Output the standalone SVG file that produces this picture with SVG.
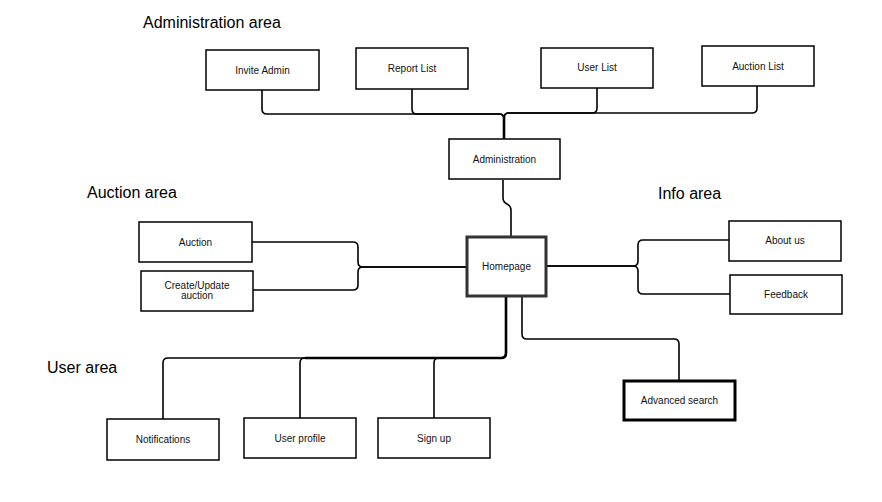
<svg xmlns="http://www.w3.org/2000/svg" width="882" height="502" viewBox="0 0 882 502">
<style>
.box{fill:#fff;stroke:#000;stroke-width:1.5}
.t{font-family:"Liberation Sans",Arial,sans-serif;font-size:10px;fill:#111;text-anchor:middle}
.area{font-family:"Liberation Sans",Arial,sans-serif;font-size:16px;fill:#000}
.e{fill:none;stroke:#000;stroke-width:1.6}
.tr{fill:none;stroke:#000;stroke-width:2.6}
</style>
<rect width="882" height="502" fill="#fff"/>
<text class="area" x="143" y="28">Administration area</text>
<text class="area" x="87" y="198">Auction area</text>
<text class="area" x="658" y="199">Info area</text>
<text class="area" x="47" y="373">User area</text>
<g id="connectors">
<path class="e" d="M504,139 V119 Q504,114 499,114 H267 Q262,114 262,109 V90"/>
<path class="e" d="M504,139 V119 Q504,114 499,114 H417 Q412,114 412,109 V89"/>
<path class="e" d="M504,139 V118 Q504,113 509,113 H592 Q597,113 597,108 V88"/>
<path class="e" d="M504,139 V118 Q504,113 509,113 H752 Q757,113 757,108 V86"/>
<path class="tr" d="M504,139 V116"/>
<path class="e" d="M503,180 V198 C503,206 511,202 511,210 V237"/>
<path class="e" d="M467,267 H363 Q358,267 358,262 V247 Q358,242 353,242 H252"/>
<path class="e" d="M467,267 H363 Q358,267 358,272 V285 Q358,290 353,290 H253"/>
<path class="e" d="M546,266 H633 Q638,266 638,261 V245 Q638,240 643,240 H729"/>
<path class="e" d="M546,266 H633 Q638,266 638,271 V289 Q638,294 643,294 H730"/>
<path class="e" d="M522,296 V334 Q522,339 527,339 H674 Q679,339 679,344 V381"/>
<path class="e" d="M506,296 V353 Q506,358 501,358 H168 Q163,358 163,363 V419"/>
<path class="e" d="M506,296 V353 Q506,358 501,358 H305 Q300,358 300,363 V418"/>
<path class="e" d="M506,296 V353 Q506,358 501,358 H439 Q434,358 434,363 V418"/>
<path class="tr" d="M506,296 V353 Q506,358 501,358 H305"/>
</g>
<g id="invite-admin"><rect class="box" x="206" y="50" width="113" height="40"/><text class="t" x="262.5" y="73.5">Invite Admin</text></g>
<g id="report-list"><rect class="box" x="356" y="48" width="112" height="41"/><text class="t" x="412" y="72">Report List</text></g>
<g id="user-list"><rect class="box" x="541" y="48" width="112" height="40"/><text class="t" x="597" y="71">User List</text></g>
<g id="auction-list"><rect class="box" x="702" y="46" width="112" height="40"/><text class="t" x="758" y="69.5">Auction List</text></g>
<g id="administration"><rect class="box" x="449" y="139" width="111" height="40"/><text class="t" x="504.5" y="162.5">Administration</text></g>
<g id="homepage"><rect x="467" y="237" width="79" height="59" fill="#fff" stroke="#333" stroke-width="3"/><text class="t" x="506.5" y="270">Homepage</text></g>
<g id="auction"><rect class="box" x="139" y="222" width="113" height="40"/><text class="t" x="195.5" y="245.5">Auction</text></g>
<g id="create-update-auction"><rect class="box" x="141" y="271" width="112" height="40"/><text class="t" x="197" y="288.5">Create/Update</text><text class="t" x="197" y="298.5">auction</text></g>
<g id="about-us"><rect class="box" x="729" y="221" width="112" height="40"/><text class="t" x="785" y="244">About us</text></g>
<g id="feedback"><rect class="box" x="730" y="275" width="112" height="39"/><text class="t" x="786" y="298">Feedback</text></g>
<g id="advanced-search"><rect x="624" y="381" width="111" height="39" fill="#fff" stroke="#000" stroke-width="3"/><text class="t" x="679.5" y="404">Advanced search</text></g>
<g id="notifications"><rect class="box" x="107" y="419" width="112" height="41"/><text class="t" x="163" y="442.5">Notifications</text></g>
<g id="user-profile"><rect class="box" x="244" y="418" width="112" height="40"/><text class="t" x="300" y="441.5">User profile</text></g>
<g id="sign-up"><rect class="box" x="378" y="418" width="112" height="40"/><text class="t" x="434" y="441.5">Sign up</text></g>
</svg>
